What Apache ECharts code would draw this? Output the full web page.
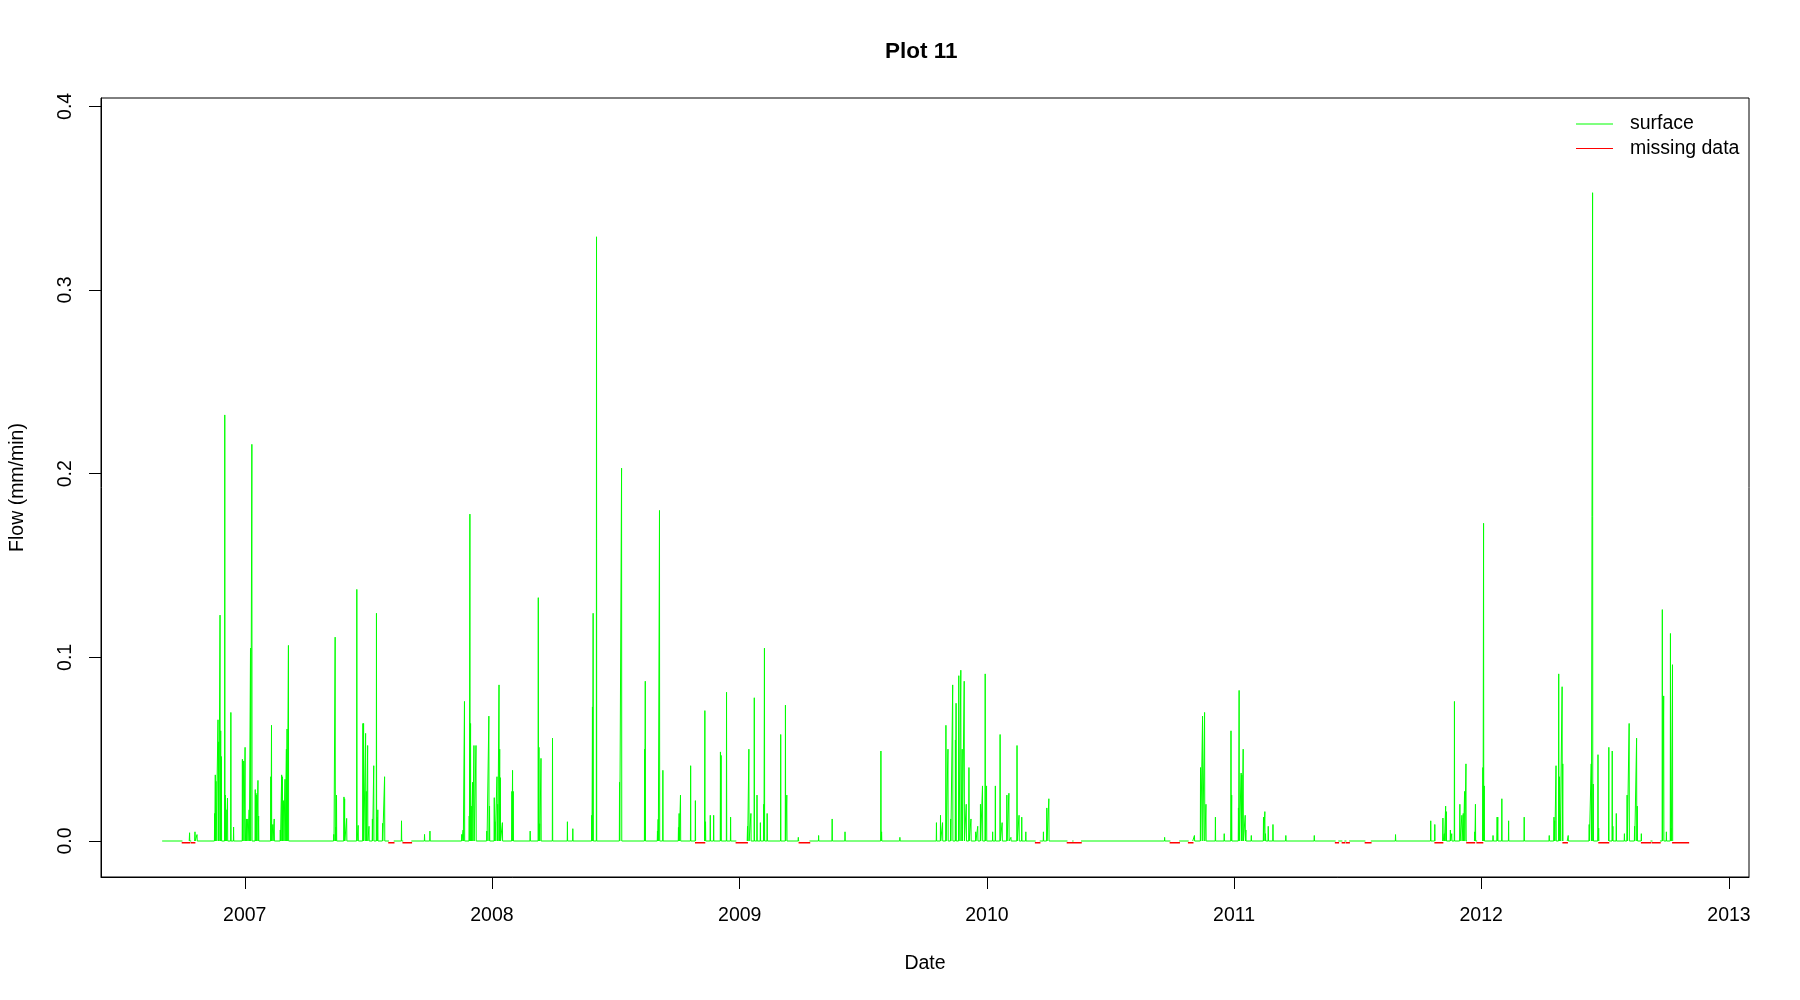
<!DOCTYPE html>
<html><head><meta charset="utf-8">
<script src="https://cdn.jsdelivr.net/npm/echarts@6/dist/echarts.min.js"></script>
<style>html,body{margin:0;padding:0;background:#fff}#c{width:1800px;height:1000px}</style>
</head><body><div id="c"></div>
<script>
// ---- data ----
const yearTicks = ['2007-01-01','2008-01-01','2009-01-01','2010-01-01','2011-01-01','2012-01-01','2013-01-01'];
const yTicks = [0, 0.1, 0.2, 0.3, 0.4];
const seriesStart = '2006-09-01';
const seriesEnd = '2012-10-10';
const missingLevel = -0.001;

const peakDates = [
'2006-10-11','2006-10-19','2006-10-22','2006-11-17','2006-11-18','2006-11-19','2006-11-22','2006-11-23','2006-11-25','2006-11-26',
'2006-11-27','2006-12-02','2006-12-03','2006-12-04','2006-12-06','2006-12-11','2006-12-15','2006-12-28','2006-12-30','2007-01-01',
'2007-01-03','2007-01-05','2007-01-07','2007-01-09','2007-01-11','2007-01-16','2007-01-17','2007-01-18','2007-01-20','2007-01-21',
'2007-02-08','2007-02-09','2007-02-11','2007-02-13','2007-02-22','2007-02-24','2007-02-25','2007-02-27','2007-03-01','2007-03-03',
'2007-03-04','2007-03-06','2007-05-12','2007-05-14','2007-05-15','2007-05-16','2007-05-27','2007-05-28','2007-05-31','2007-06-15',
'2007-06-17','2007-06-24','2007-06-25','2007-06-28','2007-06-29','2007-07-01','2007-07-03','2007-07-08','2007-07-10','2007-07-14',
'2007-07-15','2007-07-16','2007-07-23','2007-07-26','2007-08-20','2007-09-23','2007-10-01','2007-11-17','2007-11-19','2007-11-21',
'2007-11-28','2007-11-29','2007-11-30','2007-12-01','2007-12-03','2007-12-05','2007-12-08','2007-12-24','2007-12-27','2007-12-28',
'2008-01-04','2008-01-05','2008-01-08','2008-01-09','2008-01-11','2008-01-12','2008-01-13','2008-01-16','2008-01-30','2008-01-31',
'2008-02-01','2008-02-26','2008-03-09','2008-03-10','2008-03-11','2008-03-13','2008-03-30','2008-04-21','2008-04-29','2008-05-27',
'2008-05-28','2008-05-29','2008-06-03','2008-07-07','2008-07-10','2008-08-13','2008-08-14','2008-09-01','2008-09-02','2008-09-04',
'2008-09-09','2008-10-02','2008-10-03','2008-10-05','2008-10-20','2008-10-27','2008-11-10','2008-11-11','2008-11-18','2008-11-23',
'2008-12-03','2008-12-04','2008-12-12','2008-12-18',
'2009-01-12','2009-01-14','2009-01-17','2009-01-22','2009-01-26','2009-01-31','2009-02-05','2009-02-06','2009-02-10','2009-03-02',
'2009-03-09','2009-03-11','2009-03-28','2009-04-27','2009-05-17','2009-06-05','2009-07-28','2009-07-29','2009-08-25','2009-10-18',
'2009-10-24','2009-10-27','2009-11-01','2009-11-04','2009-11-08','2009-11-11','2009-11-15','2009-11-16','2009-11-20','2009-11-23',
'2009-11-25','2009-11-28','2009-12-01','2009-12-05','2009-12-08','2009-12-15','2009-12-18','2009-12-22','2009-12-25','2009-12-29',
'2009-12-31','2010-01-09','2010-01-13','2010-01-20','2010-01-23','2010-01-30','2010-02-02','2010-02-05','2010-02-14','2010-02-17',
'2010-02-21','2010-02-27','2010-03-25','2010-03-30','2010-04-02','2010-09-20','2010-11-03','2010-11-12','2010-11-15','2010-11-18',
'2010-11-20','2010-12-04',
'2010-12-17','2010-12-27','2010-12-28','2011-01-07','2011-01-08','2011-01-11','2011-01-12','2011-01-14','2011-01-17','2011-01-18',
'2011-01-26','2011-02-13','2011-02-15','2011-02-16','2011-02-20','2011-02-27','2011-03-18','2011-04-29','2011-08-27','2011-10-18',
'2011-10-24','2011-11-05','2011-11-07','2011-11-09','2011-11-10','2011-11-16','2011-11-18','2011-11-22','2011-11-30','2011-12-03',
'2011-12-05','2011-12-07','2011-12-09','2011-12-22','2011-12-23',
'2012-01-03','2012-01-04','2012-01-05','2012-01-18','2012-01-24','2012-01-25','2012-01-31','2012-02-10','2012-03-04','2012-04-10',
'2012-04-17','2012-04-18','2012-04-20','2012-04-24','2012-04-25','2012-04-26','2012-04-29','2012-04-30','2012-05-08','2012-06-08',
'2012-06-11','2012-06-13','2012-06-14','2012-06-21','2012-06-22','2012-07-07','2012-07-12','2012-07-13','2012-07-18','2012-07-30',
'2012-08-03','2012-08-06','2012-08-14','2012-08-17','2012-08-18','2012-08-24','2012-09-24','2012-09-26','2012-09-30','2012-10-06',
'2012-10-07','2012-10-09'
];
const peakValues = [
0.0045,0.005,0.0035,0.015,0.036,0.0325,0.066,0.054,0.123,0.060,
0.046,0.232,0.025,0.017,0.0234,0.070,0.0076,0.0445,0.0436,0.051,
0.012,0.012,0.017,0.105,0.216,0.028,0.026,0.025,0.033,0.0136,
0.035,0.063,0.009,0.012,0.006,0.036,0.035,0.022,0.0336,0.050,
0.061,0.1065,0.0036,0.111,0.0076,0.025,0.024,0.023,0.0123,0.137,
0.0085,0.064,0.064,0.0586,0.027,0.052,0.008,0.012,0.041,0.124,
0.013,0.017,0.0096,0.035,0.011,0.0036,0.0054,0.0036,0.006,0.076,
0.0136,0.178,0.064,0.019,0.032,0.052,0.052,0.0054,0.068,0.019,
0.0236,0.0105,0.035,0.020,0.085,0.050,0.0345,0.010,0.027,0.0385,
0.027,0.0054,0.1325,0.051,0.0094,0.045,0.056,0.0105,0.0067,0.014,
0.073,0.124,0.329,0.032,0.203,0.050,0.087,0.0054,0.0118,0.180,
0.0385,0.0074,0.015,0.025,0.041,0.022,0.071,0.0105,0.014,0.014,
0.0485,0.0466,0.081,0.013,
0.008,0.050,0.015,0.078,0.025,0.010,0.020,0.105,0.015,0.058,
0.074,0.025,0.002,0.003,0.012,0.005,0.049,0.005,0.002,0.010,
0.014,0.010,0.063,0.050,0.012,0.085,0.055,0.075,0.090,0.093,
0.050,0.087,0.020,0.040,0.012,0.005,0.008,0.020,0.030,0.091,
0.030,0.005,0.030,0.058,0.010,0.025,0.026,0.002,0.052,0.014,
0.013,0.005,0.005,0.018,0.023,0.002,0.003,0.040,0.068,0.070,
0.020,0.013,
0.004,0.060,0.025,0.018,0.082,0.037,0.036,0.050,0.014,0.006,
0.003,0.013,0.016,0.004,0.008,0.009,0.003,0.003,0.0035,0.011,
0.009,0.0125,0.004,0.019,0.016,0.006,0.004,0.076,0.020,0.014,
0.015,0.027,0.042,0.005,0.020,
0.040,0.173,0.030,0.003,0.013,0.013,0.023,0.011,0.013,0.003,
0.013,0.011,0.041,0.091,0.035,0.010,0.084,0.042,0.003,0.009,
0.042,0.353,0.031,0.047,0.007,0.051,0.049,0.008,0.015,0.004,
0.025,0.064,0.008,0.056,0.019,0.004,0.126,0.079,0.005,0.113,
0.007,0.096
];

const missingStart = [
'2006-09-07','2006-09-22','2006-10-01','2006-10-14','2006-12-05','2007-02-08','2007-03-20','2007-04-26','2007-08-02','2007-08-23',
'2007-11-13','2008-01-22','2008-04-02','2008-06-03','2008-06-26','2008-08-16','2008-09-18','2008-10-28','2008-12-27','2009-03-30',
'2010-03-14','2010-04-30','2010-05-09','2010-05-14','2010-06-10','2010-09-29','2010-10-26','2011-05-31','2011-06-10','2011-06-16',
'2011-06-24','2011-07-14','2011-08-05','2011-08-24','2011-10-14','2011-10-25','2011-12-11','2011-12-26','2012-01-27','2012-02-06',
'2012-03-03','2012-04-23','2012-05-01','2012-05-29','2012-06-13','2012-06-23','2012-08-25','2012-09-10','2012-10-10'
];
const missingEnd = [
'2006-09-07','2006-09-22','2006-10-10','2006-10-18','2006-12-05','2007-02-08','2007-03-20','2007-04-26','2007-08-08','2007-09-03',
'2007-11-13','2008-01-22','2008-04-02','2008-06-03','2008-06-26','2008-08-16','2008-09-18','2008-11-09','2009-01-11','2009-04-13',
'2010-03-19','2010-05-06','2010-05-12','2010-05-19','2010-06-10','2010-10-11','2010-10-31','2011-06-03','2011-06-12','2011-06-19',
'2011-06-24','2011-07-21','2011-08-05','2011-08-24','2011-10-14','2011-11-04','2011-12-21','2012-01-02','2012-01-27','2012-02-06',
'2012-03-03','2012-04-23','2012-05-06','2012-05-29','2012-06-13','2012-07-06','2012-09-06','2012-09-20','2012-11-01'
];

// ---- build ----
const DAY = 86400000;
const ts = s => { const p = s.split('-').map(Number); return Date.UTC(p[0], p[1]-1, p[2]); };
const tStart = ts(seriesStart), tEnd = ts(seriesEnd);

const surface = [[tStart, 0], [tEnd, 0]];
peakDates.forEach((d, i) => {
  const t = ts(d) + DAY / 2;
  surface.push([t - 0.3 * DAY, 0], [t, peakValues[i]], [t + 0.3 * DAY, 0]);
});
missingStart.forEach((s, i) => {
  const a = ts(s), b = ts(missingEnd[i]) + DAY;
  if (b - a >= 3 * DAY) {
    surface.push([a, 0], [(a + b) / 2, null]);
    if (b <= tEnd) surface.push([b, 0]);
  }
});
surface.sort((p, q) => p[0] - q[0]);

const missing = [];
missingStart.forEach((s, i) => {
  const a = ts(s), b = ts(missingEnd[i]) + DAY;
  missing.push([a, missingLevel], [b, missingLevel], [b + 1, null]);
});

const xMin = ts('2007-01-01') - 212.3 * DAY;
const xMax = ts('2013-01-01') + 29.5 * DAY;
const yearVals = yearTicks.map(ts);
const FONT = "'Liberation Sans', Arial, sans-serif";

const chart = echarts.init(document.getElementById('c'), null, {renderer: 'canvas'});
chart.setOption({
  animation: false,
  backgroundColor: '#fff',
  title: {
    text: 'Plot 11', left: 885, top: 40, padding: 0,
    textStyle: {fontFamily: FONT, fontSize: 22.5, fontWeight: 'bold', color: '#000'}
  },
  legend: {
    orient: 'vertical', left: 1576, top: 114, padding: 0, itemGap: 4.4,
    icon: 'rect', itemWidth: 37, itemHeight: 1, selectedMode: false,
    textStyle: {fontFamily: FONT, fontSize: 19.5, color: '#000', lineHeight: 20, padding: [0, 0, 0, 12]},
    data: ['surface', 'missing data']
  },
  grid: {left: 98, right: 51, top: 98, bottom: 123, show: true, borderColor: '#000', borderWidth: 1, containLabel: false},
  xAxis: {
    type: 'value', min: xMin, max: xMax,
    name: 'Date', nameLocation: 'middle', nameGap: 76.5,
    nameTextStyle: {fontFamily: FONT, fontSize: 19.5, color: '#000'},
    axisLine: {show: true, onZero: false, lineStyle: {color: '#000', width: 1}},
    axisTick: {show: true, length: 12, customValues: yearVals, lineStyle: {color: '#000', width: 1}},
    axisLabel: {customValues: yearVals, margin: 28.5, fontFamily: FONT, fontSize: 19.5, color: '#000',
      formatter: v => String(new Date(v).getUTCFullYear())},
    splitLine: {show: false}
  },
  yAxis: {
    type: 'value', min: -0.0196, max: 0.40457,
    name: 'Flow (mm/min)', nameLocation: 'middle', nameGap: 73,
    nameTextStyle: {fontFamily: FONT, fontSize: 19.5, color: '#000'},
    axisLine: {show: true, onZero: false, lineStyle: {color: '#000', width: 1}},
    axisTick: {show: true, length: 12, customValues: yTicks, lineStyle: {color: '#000', width: 1}},
    axisLabel: {customValues: yTicks, rotate: 90, margin: 25, fontFamily: FONT, fontSize: 19.5, color: '#000',
      formatter: v => v.toFixed(1)},
    splitLine: {show: false}
  },
  series: [
    {name: 'surface', type: 'line', data: surface, symbol: 'none', showSymbol: false, connectNulls: false,
      color: '#00FF00', lineStyle: {color: '#00FF00', width: 1}, itemStyle: {color: '#00FF00'}, silent: true, sampling: null},
    {name: 'missing data', type: 'line', data: missing, symbol: 'none', showSymbol: false, connectNulls: false,
      color: '#FF0000', lineStyle: {color: '#FF0000', width: 1.5, cap: 'square'}, itemStyle: {color: '#FF0000'}, silent: true}
  ]
});
</script>
</body></html>
